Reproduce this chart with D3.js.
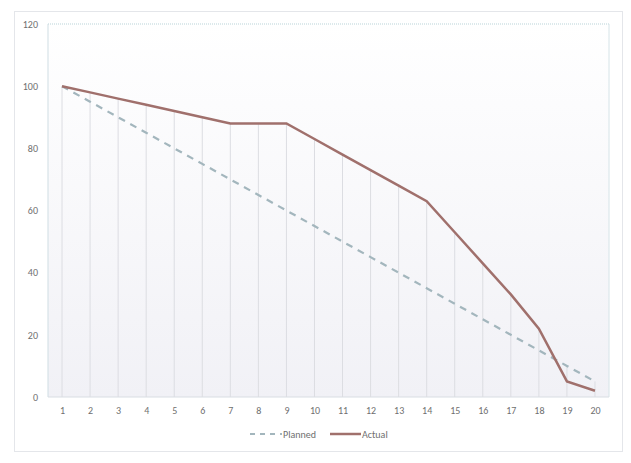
<!DOCTYPE html>
<html lang="en">
<head>
    <meta charset="UTF-8">
    <script src="https://d3js.org/d3.v7.min.js"></script>
    <title>Burndown</title>
    <style>
        body { margin: 0; background: #fff; }
        text { font-family: Calibri, Carlito, "Open Sans", sans-serif; }
    </style>
</head>
<body>
    <script>
        const days = [1, 2, 3, 4, 5, 6, 7, 8, 9, 10, 11, 12, 13, 14, 15, 16, 17, 18, 19, 20];
        const planned = [100, 95, 90, 85, 80, 75, 70, 65, 60, 55, 50, 45, 40, 35, 30, 25, 20, 15, 10, 5];
        const actual = [100, 98, 96, 94, 92, 90, 88, 88, 88, 83, 78, 73, 68, 63, 53, 43, 33, 22, 5, 2];
        const yTicks = [0, 20, 40, 60, 80, 100, 120];

        const width = 631;
        const height = 463;
        const margin = {top: 24, right: 22, bottom: 66, left: 48};

        const svg = d3.select('body')
            .append('svg')
            .attr('width', width)
            .attr('height', height);

        const defs = svg.append('defs');
        const grad = defs.append('linearGradient')
            .attr('id', 'bg')
            .attr('x1', 0).attr('y1', 0).attr('x2', 0).attr('y2', 1);
        grad.append('stop').attr('offset', '0%').attr('stop-color', '#ffffff');
        grad.append('stop').attr('offset', '100%').attr('stop-color', '#f1f1f6');

        // outer chart frame
        svg.append('rect')
            .attr('x', 14.5).attr('y', 11.5)
            .attr('width', 608).attr('height', 440)
            .attr('fill', '#fff')
            .attr('stroke', '#e4e6ea');

        const x = d3.scaleLinear()
            .domain([0.5, 20.5])
            .range([margin.left, width - margin.right]);

        const y = d3.scaleLinear()
            .domain([0, 120])
            .range([height - margin.bottom, margin.top]);

        // plot area
        svg.append('rect')
            .attr('x', x(0.5)).attr('y', y(120))
            .attr('width', x(20.5) - x(0.5))
            .attr('height', y(0) - y(120))
            .attr('fill', 'url(#bg)');

        svg.append('line')
            .attr('x1', x(0.5)).attr('x2', x(20.5))
            .attr('y1', y(120)).attr('y2', y(120))
            .attr('stroke', '#b9d3d8').attr('stroke-dasharray', '1,1');
        svg.append('line')
            .attr('x1', x(20.5)).attr('x2', x(20.5))
            .attr('y1', y(120)).attr('y2', y(0))
            .attr('stroke', '#d6e4e8');
        svg.append('line')
            .attr('x1', x(0.5)).attr('x2', x(0.5))
            .attr('y1', y(120)).attr('y2', y(0))
            .attr('stroke', '#cfdde3');
        svg.append('line')
            .attr('x1', x(0.5)).attr('x2', x(20.5))
            .attr('y1', y(0)).attr('y2', y(0))
            .attr('stroke', '#d8dde3');

        // drop lines
        svg.selectAll('.drop')
            .data(days).enter()
            .append('line')
            .attr('class', 'drop')
            .attr('x1', d => x(d)).attr('x2', d => x(d))
            .attr('y1', (d, i) => y(Math.max(planned[i], actual[i])))
            .attr('y2', y(0))
            .attr('stroke', '#dcdde2')
            .attr('stroke-width', 1);

        const line = d3.line()
            .x((d, i) => x(days[i]))
            .y(d => y(d));

        svg.append('path')
            .datum(planned)
            .attr('d', line)
            .attr('fill', 'none')
            .attr('stroke', '#a3b6bd')
            .attr('stroke-width', 2.2)
            .attr('stroke-dasharray', '7,6');

        svg.append('path')
            .datum(actual)
            .attr('d', line)
            .attr('fill', 'none')
            .attr('stroke', '#a0706c')
            .attr('stroke-width', 2.5);

        // axes
        const xAxis = d3.axisBottom(x).tickValues(days).tickSize(0).tickPadding(10);
        svg.append('g')
            .attr('transform', `translate(0, ${y(0)})`)
            .call(xAxis)
            .call(g => g.select('.domain').remove())
            .selectAll('text')
            .attr('fill', '#6f6f6f')
            .attr('font-size', 10);

        const yAxis = d3.axisLeft(y).tickValues(yTicks).tickSize(0).tickPadding(10);
        svg.append('g')
            .attr('transform', `translate(${x(0.5)}, 0)`)
            .call(yAxis)
            .call(g => g.select('.domain').remove())
            .selectAll('text')
            .attr('fill', '#6f6f6f')
            .attr('font-size', 10);

        // legend
        const legend = svg.append('g').attr('transform', 'translate(250, 434)');
        legend.append('line')
            .attr('x1', 0).attr('x2', 32).attr('y1', 0).attr('y2', 0)
            .attr('stroke', '#a3b6bd').attr('stroke-width', 2).attr('stroke-dasharray', '5,5');
        legend.append('text')
            .attr('x', 33).attr('y', 3.5)
            .attr('fill', '#6f6f6f').attr('font-size', 10)
            .text('Planned');
        legend.append('line')
            .attr('x1', 80).attr('x2', 111).attr('y1', 0).attr('y2', 0)
            .attr('stroke', '#a0706c').attr('stroke-width', 2.5);
        legend.append('text')
            .attr('x', 112).attr('y', 3.5)
            .attr('fill', '#6f6f6f').attr('font-size', 10)
            .text('Actual');
    </script>
</body>
</html>
